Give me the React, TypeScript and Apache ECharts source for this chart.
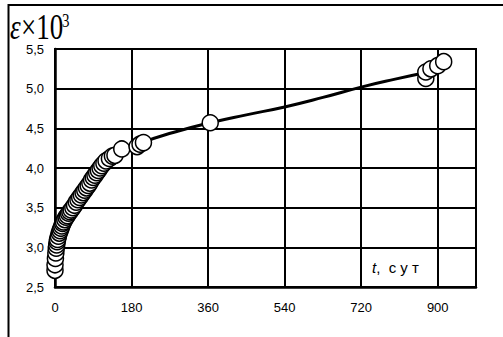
import React, { useEffect, useRef } from "react";
import * as echarts from "echarts";

const pointT = [0, 0, 1, 2, 3, 4, 5, 6, 8, 10, 12, 14, 16, 18, 20, 23, 26, 29, 32, 35, 38, 42, 46, 50, 54, 58, 62, 66, 70, 74, 78, 82, 86, 90, 94, 98, 102, 106, 110, 115, 120, 128, 135, 141, 157, 193, 200, 208, 365, 872, 872, 884, 900, 914];
const pointV = [2.71, 2.78, 2.86, 2.93, 2.99, 3.03, 3.07, 3.1, 3.14, 3.18, 3.21, 3.24, 3.27, 3.3, 3.32, 3.35, 3.38, 3.4, 3.43, 3.45, 3.47, 3.5, 3.53, 3.57, 3.6, 3.63, 3.66, 3.69, 3.72, 3.75, 3.78, 3.81, 3.85, 3.88, 3.91, 3.94, 3.97, 4.0, 4.03, 4.06, 4.09, 4.12, 4.15, 4.16, 4.24, 4.27, 4.3, 4.32, 4.57, 5.13, 5.21, 5.25, 5.29, 5.34];

const lineT = [0, 20, 50, 100, 150, 200, 280, 365, 450, 540, 630, 720, 800, 870];
const lineV = [2.75, 3.3, 3.58, 3.96, 4.17, 4.31, 4.45, 4.57, 4.67, 4.77, 4.89, 5.02, 5.12, 5.2];

const xTicks = [0, 180, 360, 540, 720, 900];
const yTicks = [2.5, 3.0, 3.5, 4.0, 4.5, 5.0, 5.5];

export default function App() {
  const ref = useRef<HTMLDivElement>(null);
  useEffect(() => {
    if (!ref.current) return;
    const chart = echarts.init(ref.current, null, { renderer: "svg" });
    chart.setOption({
      animation: false,
      backgroundColor: "#fff",
      grid: {
        left: 55,
        top: 49,
        width: 421,
        height: 238,
        show: true,
        borderColor: "#000",
        borderWidth: 2,
        backgroundColor: "transparent",
      },
      xAxis: {
        type: "value",
        min: 0,
        max: 990,
        interval: 180,
        axisLine: { show: true, lineStyle: { color: "#000", width: 2.5 } },
        axisTick: { show: false },
        splitLine: { show: true, lineStyle: { color: "#000", width: 2 } },
        axisLabel: {
          showMaxLabel: false,
          color: "#000",
          fontSize: 13,
          fontFamily: "Liberation Sans, Arial",
          margin: 14,
          formatter: (v: number) => (xTicks.includes(v) ? String(v) : ""),
        },
      },
      yAxis: {
        type: "value",
        min: 2.5,
        max: 5.5,
        interval: 0.5,
        axisLine: { show: true, lineStyle: { color: "#000", width: 2.5 } },
        axisTick: { show: false },
        splitLine: { show: true, lineStyle: { color: "#000", width: 2 } },
        axisLabel: {
          color: "#000",
          fontSize: 13,
          fontFamily: "Liberation Sans, Arial",
          margin: 11,
          formatter: (v: number) =>
            yTicks.some((t) => Math.abs(t - v) < 1e-6) ? v.toFixed(1).replace(".", ",") : "",
        },
      },
      graphic: [
        {
          type: "rect",
          shape: { x: 8.5, y: 5, width: 510, height: 360 },
          style: { fill: "none", stroke: "#000", lineWidth: 2 },
          silent: true,
        },
        {
          type: "group",
          x: 10,
          y: 45,
          scaleY: 1.3,
          children: [
            {
              type: "text",
              x: 0,
              y: 0,
              style: {
                text: "ε",
                font: "italic 27px 'Liberation Serif', serif",
                fill: "#000",
                verticalAlign: "bottom",
              },
            },
            {
              type: "text",
              x: 11,
              y: 0,
              style: {
                text: "×10",
                font: "27px 'Liberation Serif', serif",
                fill: "#000",
                verticalAlign: "bottom",
              },
            },
          ],
        },
        {
          type: "text",
          x: 62,
          y: 11,
          scaleY: 1.3,
          style: {
            text: "3",
            font: "15px 'Liberation Serif', serif",
            fill: "#000",
            verticalAlign: "top",
          },
        },
        {
          type: "text",
          x: 372,
          y: 267,
          style: {
            text: "{i|t},  с у т",
            font: "15px 'Liberation Sans', Arial",
            fill: "#000",
            verticalAlign: "middle",
            rich: {
              i: { fontStyle: "italic", fontSize: 15, fontFamily: "Liberation Sans, Arial" },
            },
          },
        },
      ],
      series: [
        {
          type: "line",
          data: lineT.map((t, i) => [t, lineV[i]]),
          smooth: true,
          showSymbol: false,
          lineStyle: { color: "#000", width: 3 },
          z: 2,
        },
        {
          type: "scatter",
          data: pointT.map((t, i) => [t, pointV[i]]),
          symbol: "circle",
          symbolSize: 16,
          itemStyle: { color: "#fff", borderColor: "#000", borderWidth: 1.5, opacity: 1 },
          z: 3,
        },
      ],
    });
    return () => chart.dispose();
  }, []);
  return <div ref={ref} style={{ width: 503, height: 337, position: "absolute", left: 0, top: 0 }} />;
}
